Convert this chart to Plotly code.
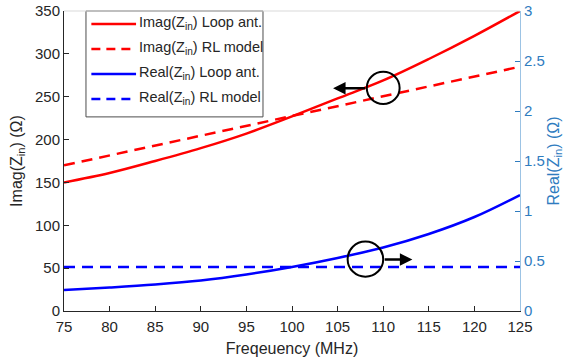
import plotly.graph_objects as go

freq = [75, 80, 85, 90, 95, 100, 105, 110, 115, 120, 125]
imag_loop = [150, 161, 175, 190, 207, 227, 248, 269, 294, 321, 350]
imag_rl = [170, 181.5, 193, 204.5, 216, 227.5, 239, 250.5, 262, 273.5, 285]
real_loop = [0.21, 0.235, 0.265, 0.305, 0.365, 0.44, 0.53, 0.635, 0.77, 0.94, 1.16]
real_rl = [0.44] * len(freq)
legend_names = ["Imag(Z<sub>in</sub>) Loop ant.", "Imag(Z<sub>in</sub>) RL model",
                "Real(Z<sub>in</sub>) Loop ant.", "Real(Z<sub>in</sub>) RL model"]

FONT = "Liberation Sans, Arial, sans-serif"
BLUE_AX = "#2F7CBF"
DASH = "11px,7px"
styles = [("#FF0000", "solid"), ("#FF0000", DASH), ("#0000FF", "solid"), ("#0000FF", DASH)]

fig = go.Figure()
series = [(imag_loop, "y", "spline"), (imag_rl, "y", "linear"),
          (real_loop, "y2", "spline"), (real_rl, "y2", "linear")]
for (vals, ax, shp), (col, dsh), nm in zip(series, styles, legend_names):
    fig.add_trace(go.Scatter(x=freq, y=vals, mode="lines", yaxis=ax, line_shape=shp,
                             line=dict(color=col, width=2.5, dash=dsh), name=nm, showlegend=False))

# manual legend (paper coords)
fig.add_shape(type="rect", xref="paper", yref="paper", x0=0.0482, x1=0.4364, y0=0.647, y1=1.0,
              line=dict(color="#4D4D4D", width=1), fillcolor="white", layer="above")
row_y = [0.9567, 0.8733, 0.79, 0.7067]
for ry, (col, dsh), nm in zip(row_y, styles, legend_names):
    fig.add_shape(type="line", xref="paper", yref="paper", x0=0.060, x1=0.158, y0=ry, y1=ry,
                  line=dict(color=col, width=2.5, dash=("9px,6px" if dsh != "solid" else "solid")),
                  layer="above")
    fig.add_annotation(x=0.161, y=ry + 0.004, xref="paper", yref="paper", text=nm, showarrow=False,
                       xanchor="left", yanchor="middle", font=dict(family=FONT, size=14.5, color="#262626"))

# circles
fig.add_shape(type="circle", xref="x", yref="y", x0=108.2, x1=111.8, y0=241.5, y1=279,
              line=dict(color="black", width=2))
fig.add_shape(type="circle", xref="x", yref="y", x0=106.1, x1=110.0, y0=40, y1=81,
              line=dict(color="black", width=2))
# arrows
fig.add_annotation(x=104.5, y=260, ax=108.2, ay=260, xref="x", yref="y", axref="x", ayref="y",
                   showarrow=True, arrowhead=2, arrowsize=1, arrowwidth=2.5, arrowcolor="black", text="")
fig.add_annotation(x=113.2, y=60, ax=110.0, ay=60, xref="x", yref="y", axref="x", ayref="y",
                   showarrow=True, arrowhead=2, arrowsize=1, arrowwidth=2.5, arrowcolor="black", text="")

fig.update_layout(
    width=572, height=364,
    margin=dict(l=64, r=52, t=11, b=53, autoexpand=False),
    paper_bgcolor="white", plot_bgcolor="white",
    font=dict(family=FONT, size=15, color="#262626"),
    showlegend=False,
    xaxis=dict(range=[75, 125], tickmode="array", tickvals=freq, ticks="inside", ticklen=5,
               tickcolor="#262626", showline=True, linecolor="#262626", linewidth=1,
               mirror=False, showgrid=False, zeroline=False, ticklabelstandoff=2,
               title=dict(text="Freqeuency (MHz)", font=dict(size=16), standoff=8)),
    yaxis=dict(range=[0, 350], tickmode="array", tickvals=[0, 50, 100, 150, 200, 250, 300, 350],
               ticks="inside", ticklen=5, tickcolor="#262626", showline=True, linecolor="#262626",
               linewidth=1, showgrid=False, zeroline=False,
               title=dict(text="Imag(Z<sub>in</sub>) (Ω)", font=dict(size=16), standoff=8)),
    yaxis2=dict(range=[0, 3], overlaying="y", side="right", tickmode="array",
                tickvals=[0, 0.5, 1, 1.5, 2, 2.5, 3], ticktext=["0", "0.5", "1", "1.5", "2", "2.5", "3"],
                ticks="inside", ticklen=5, tickcolor=BLUE_AX, showline=True, linecolor="#9CC3E4",
                linewidth=1, showgrid=False, zeroline=False, tickfont=dict(color=BLUE_AX),
                title=dict(text="Real(Z<sub>in</sub>) (Ω)", font=dict(size=16, color=BLUE_AX), standoff=2)),
)
# top border line
fig.add_shape(type="line", xref="paper", yref="paper", x0=0, x1=1, y0=1, y1=1,
              line=dict(color="#D9D9D9", width=1))

fig.write_html("out.html")
